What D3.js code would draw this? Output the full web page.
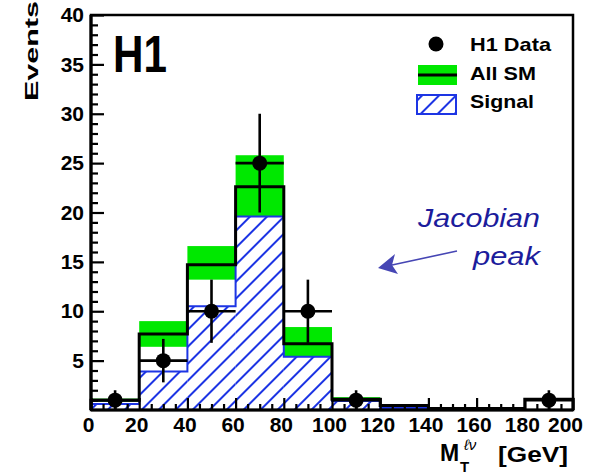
<!DOCTYPE html>
<html>
<head>
<meta charset="utf-8">
<script src="https://cdn.jsdelivr.net/npm/d3@7"></script>
<style>
  html, body { margin: 0; padding: 0; background: #fff; }
  svg { display: block; }
  text { font-family: "Liberation Sans", Arial, sans-serif; }
</style>
</head>
<body>
<svg id="chart" width="594" height="474"></svg>
<script>
// ---------------- data ----------------
const binLo = [0, 20, 40, 60, 80, 100, 120, 140, 160, 180];
const binHi = [20, 40, 60, 80, 100, 120, 140, 160, 180, 200];
const binMid = [10, 30, 50, 70, 90, 110, 130, 150, 170, 190];
const dataCounts = [1, 5, 10, 25, 10, 1, 0, 0, 0, 1];
const dataErr = [1, 2.2, 3.2, 5, 3.2, 1, 0, 0, 0, 1];
const smTotal = [1.0, 7.7, 14.7, 22.6, 6.7, 1.1, 0.45, 0.15, 0.15, 1.1];
const smBandLo = [0.85, 6.4, 13.2, 19.4, 5.0, 0.95, 0.35, 0.1, 0.1, 1.05];
const smBandHi = [1.15, 9.0, 16.6, 25.8, 8.4, 1.3, 0.55, 0.2, 0.2, 1.15];
const signal = [0.6, 3.9, 10.5, 19.6, 5.4, 0.9, 0.2, 0, 0, 0];
const xMajorTicks = [0, 20, 40, 60, 80, 100, 120, 140, 160, 180, 200];
const yMajorTicks = [5, 10, 15, 20, 25, 30, 35, 40];
const legendLabels = ["H1 Data", "All SM", "Signal"];

// ---------------- setup ----------------
const svg = d3.select("#chart");
const x = d3.scaleLinear().domain([0, 200]).range([91, 573]);
const y = d3.scaleLinear().domain([0, 40]).range([410, 15]);

const GREEN = "#00e800";
const BLUE = "#1d35e4";

const defs = svg.append("defs");
const pat = defs.append("pattern")
  .attr("id", "hatch")
  .attr("patternUnits", "userSpaceOnUse")
  .attr("width", 12).attr("height", 12)
  .attr("patternTransform", "rotate(45)");
pat.append("rect").attr("width", 12).attr("height", 12).attr("fill", "#fff");
pat.append("line").attr("x1", 6).attr("y1", 0).attr("x2", 6).attr("y2", 12)
  .attr("stroke", BLUE).attr("stroke-width", 2);

const idx = d3.range(binLo.length);

// green SM uncertainty band
svg.append("g").selectAll("rect").data(idx).join("rect")
  .attr("x", i => x(binLo[i]))
  .attr("width", i => x(binHi[i]) - x(binLo[i]))
  .attr("y", i => y(smBandHi[i]))
  .attr("height", i => y(smBandLo[i]) - y(smBandHi[i]))
  .attr("fill", GREEN);

// signal hatched
svg.append("g").selectAll("rect").data(idx.filter(i => signal[i] > 0)).join("rect")
  .attr("x", i => x(binLo[i]))
  .attr("width", i => x(binHi[i]) - x(binLo[i]))
  .attr("y", i => y(signal[i]))
  .attr("height", i => y(0) - y(signal[i]))
  .attr("fill", "url(#hatch)");

function stepPath(vals) {
  const p = d3.path();
  p.moveTo(x(binLo[0]), y(0));
  vals.forEach((v, i) => { p.lineTo(x(binLo[i]), y(v)); p.lineTo(x(binHi[i]), y(v)); });
  p.lineTo(x(binHi[vals.length - 1]), y(0));
  return p.toString();
}

svg.append("path").attr("d", stepPath(signal))
  .attr("fill", "none").attr("stroke", BLUE).attr("stroke-width", 2);

svg.append("path").attr("d", stepPath(smTotal))
  .attr("fill", "none").attr("stroke", "#000").attr("stroke-width", 3);

// ---------------- axes ----------------
const xMinor = [];
for (let v = 0; v <= 200; v += 5) if (v % 20 !== 0) xMinor.push(v);
const yMinor = [];
for (let v = 0; v <= 40; v += 1) if (v % 5 !== 0) yMinor.push(v);

const axStyle = g => {
  g.select(".domain").remove();
  g.selectAll("line").attr("stroke", "#000").attr("stroke-width", 2.2);
  g.selectAll("text").attr("font-size", 21).attr("font-weight", "bold")
    .attr("font-family", "Liberation Sans, Arial, sans-serif").attr("fill", "#000");
};

svg.append("g").attr("transform", `translate(0,${y(0)})`)
  .call(d3.axisBottom(x).tickValues(xMinor).tickSize(-6).tickFormat(""))
  .call(axStyle);
const xAx = svg.append("g").attr("transform", `translate(0,${y(0)})`)
  .call(d3.axisBottom(x).tickValues(xMajorTicks).tickSizeInner(-12).tickSizeOuter(0).tickPadding(7).tickFormat(d3.format("d")))
  .call(axStyle);
xAx.selectAll("text").attr("dx", d => d === 200 ? -8 : -3);

svg.append("g").attr("transform", `translate(${x(0)},0)`)
  .call(d3.axisLeft(y).tickValues(yMinor).tickSize(-7).tickFormat(""))
  .call(axStyle);
svg.append("g").attr("transform", `translate(${x(0)},0)`)
  .call(d3.axisLeft(y).tickValues(yMajorTicks).tickSizeInner(-13).tickSizeOuter(0).tickPadding(7).tickFormat(d3.format("d")))
  .call(axStyle);

// frame
svg.append("rect")
  .attr("x", x(0)).attr("y", y(40))
  .attr("width", x(200) - x(0)).attr("height", y(0) - y(40))
  .attr("fill", "none").attr("stroke", "#000").attr("stroke-width", 2.5);
svg.append("line").attr("x1", x(0)).attr("x2", x(200)).attr("y1", y(0)).attr("y2", y(0))
  .attr("stroke", "#000").attr("stroke-width", 3.2);
svg.append("line").attr("x1", x(0)).attr("x2", x(0)).attr("y1", y(40)).attr("y2", y(0))
  .attr("stroke", "#000").attr("stroke-width", 3.2);

// ---------------- data points ----------------
const pts = idx.filter(i => dataCounts[i] > 0);
const dg = svg.append("g");
dg.selectAll("line.h").data(pts).join("line").attr("class", "h")
  .attr("x1", i => x(binLo[i])).attr("x2", i => x(binHi[i]))
  .attr("y1", i => y(dataCounts[i])).attr("y2", i => y(dataCounts[i]))
  .attr("stroke", "#000").attr("stroke-width", 2.6);
dg.selectAll("line.v").data(pts).join("line").attr("class", "v")
  .attr("x1", i => x(binMid[i])).attr("x2", i => x(binMid[i]))
  .attr("y1", i => y(dataCounts[i] - dataErr[i])).attr("y2", i => y(dataCounts[i] + dataErr[i]))
  .attr("stroke", "#000").attr("stroke-width", 2.6);
dg.selectAll("circle").data(pts).join("circle")
  .attr("cx", i => x(binMid[i])).attr("cy", i => y(dataCounts[i])).attr("r", 7.5)
  .attr("fill", "#000");

// ---------------- legend ----------------
const lg = svg.append("g");
lg.append("circle").attr("cx", 436).attr("cy", 44).attr("r", 7.5).attr("fill", "#000");
lg.append("rect").attr("x", 418).attr("y", 65).attr("width", 39).attr("height", 20).attr("fill", GREEN);
lg.append("line").attr("x1", 418).attr("x2", 457).attr("y1", 75).attr("y2", 75).attr("stroke", "#000").attr("stroke-width", 3);
lg.append("rect").attr("x", 417).attr("y", 95).attr("width", 39).attr("height", 19)
  .attr("fill", "url(#hatch)").attr("stroke", BLUE).attr("stroke-width", 2);
const lgY = [51, 80, 108];
const lgLen = [81, 66, 64];
legendLabels.forEach((t, i) => {
  lg.append("text").attr("x", 470).attr("y", lgY[i])
    .attr("font-size", 19).attr("font-weight", "bold")
    .attr("textLength", lgLen[i]).attr("lengthAdjust", "spacingAndGlyphs")
    .text(t);
});

// ---------------- labels ----------------
svg.append("text").attr("x", 113).attr("y", 72)
  .attr("font-size", 51).attr("font-weight", "bold")
  .attr("textLength", 54).attr("lengthAdjust", "spacingAndGlyphs")
  .text("H1");

svg.append("text")
  .attr("transform", "translate(38,101) rotate(-90)")
  .attr("font-size", 18).attr("font-weight", "bold")
  .attr("textLength", 100).attr("lengthAdjust", "spacingAndGlyphs")
  .text("Events");

// x axis title
svg.append("text").attr("x", 440).attr("y", 461).attr("font-size", 23).attr("font-weight", "bold").text("M");
svg.append("text").attr("x", 460).attr("y", 472).attr("font-size", 15).attr("font-weight", "bold").text("T");
svg.append("text").attr("x", 464).attr("y", 450).attr("font-size", 15).attr("font-style", "italic")
  .attr("font-family", "DejaVu Sans, sans-serif").attr("fill", "#000").text("ℓν");
svg.append("text").attr("x", 498).attr("y", 462).attr("font-size", 22).attr("font-weight", "bold")
  .attr("textLength", 70).attr("lengthAdjust", "spacingAndGlyphs").text("[GeV]");

// Jacobian annotation
const NAVY = "#1c1c9c";
svg.append("text").attr("x", 418).attr("y", 227).attr("font-size", 26).attr("font-style", "italic")
  .attr("font-family", "DejaVu Sans, Verdana, sans-serif").attr("fill", NAVY)
  .attr("textLength", 122).attr("lengthAdjust", "spacingAndGlyphs").text("Jacobian");
svg.append("text").attr("x", 473).attr("y", 265).attr("font-size", 26).attr("font-style", "italic")
  .attr("font-family", "DejaVu Sans, Verdana, sans-serif").attr("fill", NAVY)
  .attr("textLength", 67).attr("lengthAdjust", "spacingAndGlyphs").text("peak");
const ARROW = "#4646b4";
svg.append("line").attr("x1", 457).attr("y1", 251).attr("x2", 392).attr("y2", 265)
  .attr("stroke", ARROW).attr("stroke-width", 1.6);
svg.append("path").attr("d", "M378,268 L395,254 L392,265 L398,274 Z").attr("fill", ARROW);
</script>
</body>
</html>
